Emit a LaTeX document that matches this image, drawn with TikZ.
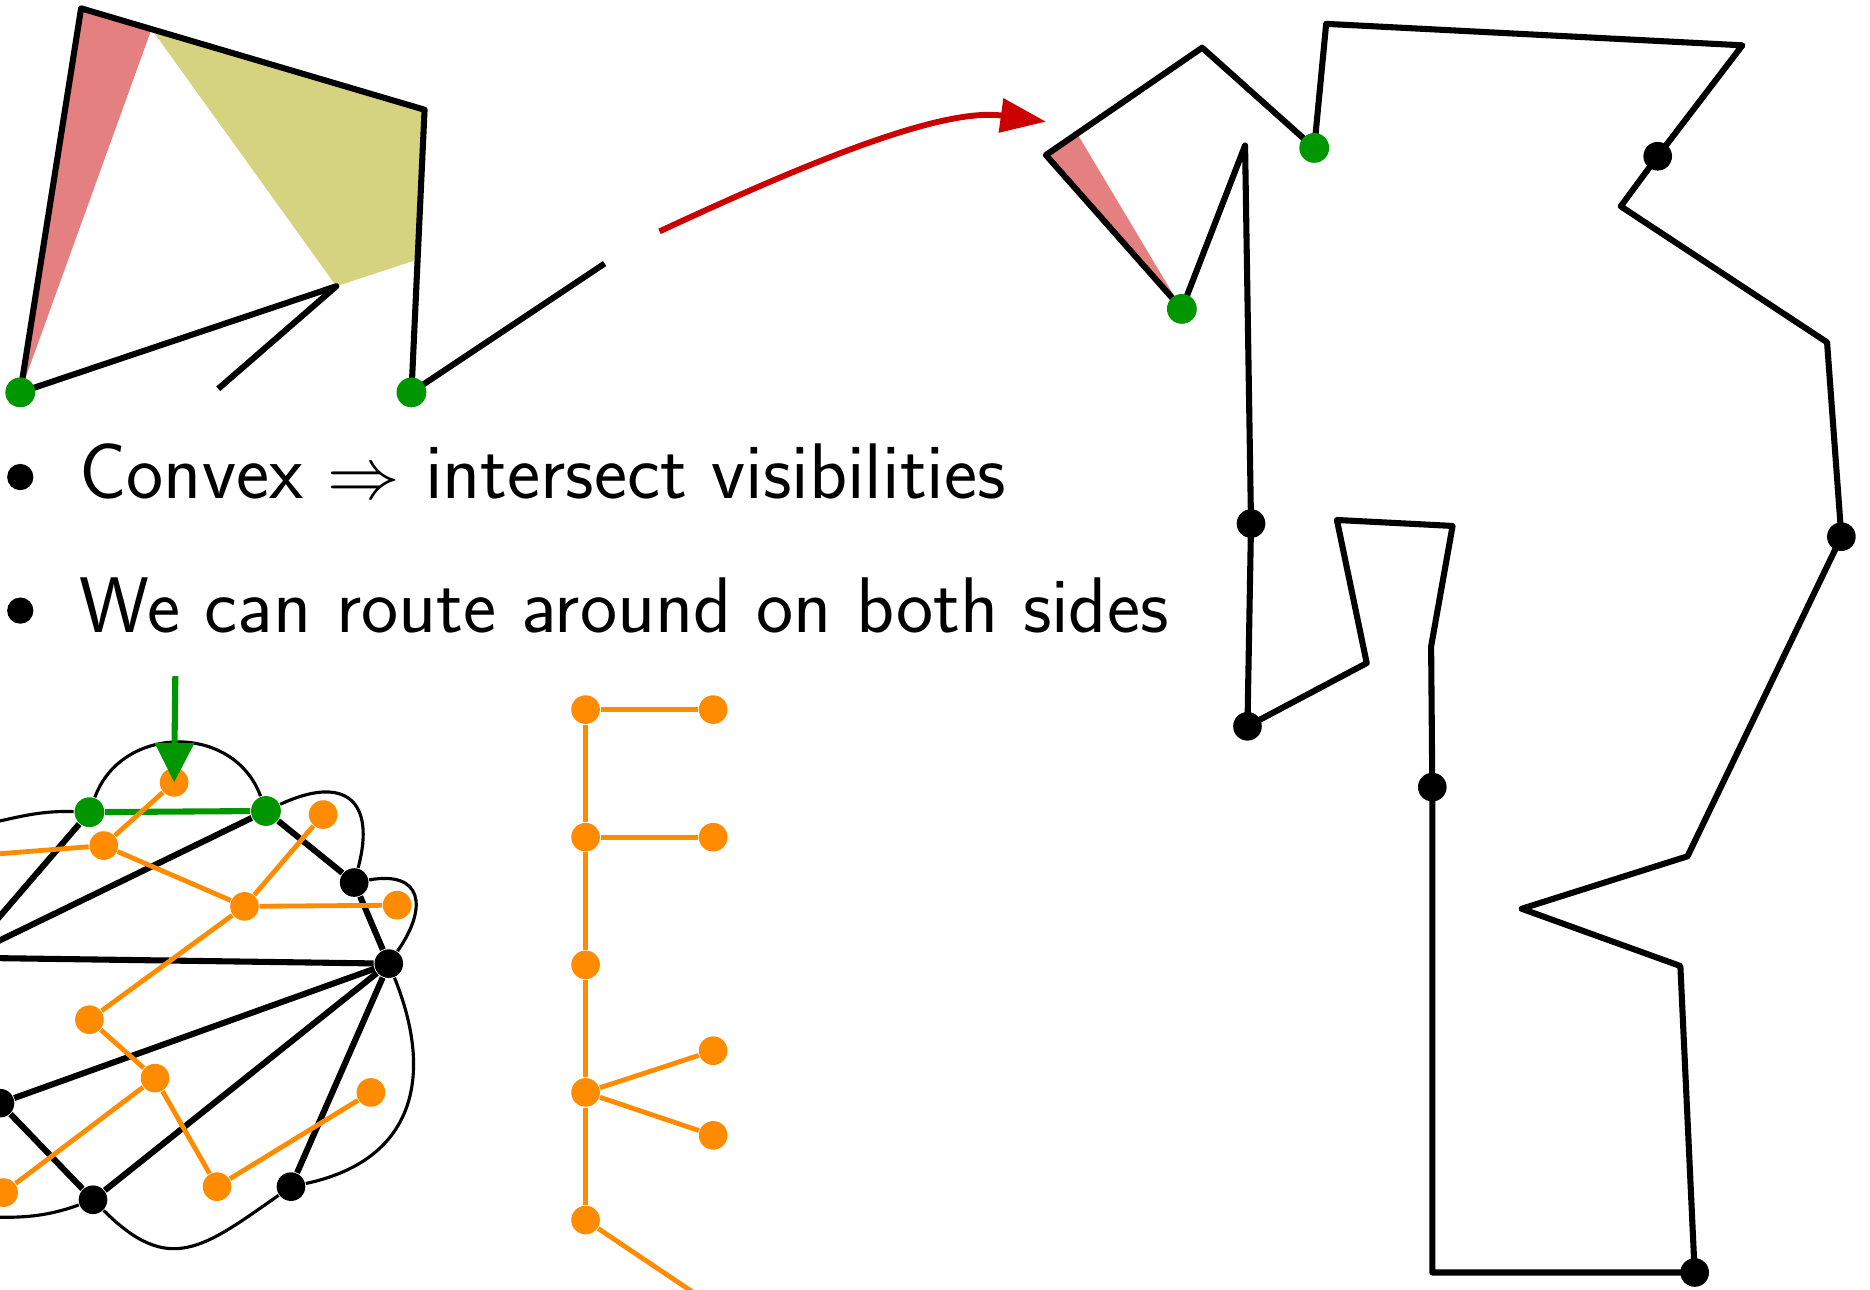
\documentclass[tikz,border=0pt]{standalone}
\usepackage{amsmath}
\usepackage{amssymb}
\usepackage{xcolor}
\usepackage{tikz}
\usetikzlibrary{calc, positioning, arrows.meta}

\definecolor{vgreen}{RGB}{0,150,0}
\definecolor{vorange}{RGB}{255,140,0}
\definecolor{vred}{RGB}{204,0,0}
\definecolor{vpink}{RGB}{229,128,128}
\definecolor{volive}{RGB}{213,211,128}

\begin{document}
\begin{tikzpicture}[
    x=0.01cm, y=-0.01cm,
    dot/.style={circle, inner sep=0pt, minimum size=0.24cm},
    bdot/.style={dot, fill=black},
    gdot/.style={dot, fill=vgreen, minimum size=0.25cm},
    odot/.style={dot, fill=vorange},
    poly/.style={line width=1.45pt, line join=round},
    thinc/.style={line width=0.75pt},
    oedge/.style={vorange, line width=1.15pt},
    gedge/.style={vgreen, line width=1.45pt},
    txt/.style={anchor=base west, inner sep=0pt, font=\fontsize{18.8}{22}\selectfont\sffamily}
]
\useasboundingbox (0,0) rectangle (1568,1081);

% --- convex corner, top left
\coordinate (A) at (68,7);
\coordinate (B) at (356,92);
\coordinate (C) at (345,329);
\coordinate (Cend) at (507,221);
\coordinate (D) at (17,329);
\coordinate (E) at (282,240);
\coordinate (F) at (183,326);
\coordinate (P) at ($(A)!0.205!(B)$);
\coordinate (Q) at ($(B)!0.53!(C)$);
\fill[vpink] (A) -- (P) -- (D) -- cycle;
\fill[volive] (P) -- (B) -- (Q) -- (E) -- cycle;
\draw[poly] (F) -- (E) -- (D) -- (A) -- (B) -- (C) -- (Cend);
\node[gdot] (vD) at (D) {};
\node[gdot] (vC) at (C) {};

% --- arrow to the big polygon
\coordinate (arrS) at (553,194);
\coordinate (arrT) at (877,102);
\draw[vred, line width=1.4pt, -{Triangle[length=0.38cm, width=0.28cm]}]
    (arrS) .. controls (680,135) and (790,90) .. (arrT);

% --- bullets
\node[bdot, minimum size=0.22cm] (b1) at (17,400) {};
\node[bdot, minimum size=0.22cm] (b2) at (17,512) {};
\node[txt] (t1) at (66,418) {Convex $\Rightarrow$ intersect visibilities};
\node[txt] (t2) at (66,530) {We can route around on both sides};

% --- big polygon, right
\coordinate (r1) at (991,259);
\coordinate (r2) at (1044,122);
\coordinate (r3) at (1049,439);
\coordinate (r4) at (1046,609);
\coordinate (r5) at (1146,556);
\coordinate (r6) at (1121,436);
\coordinate (r7) at (1218,441);
\coordinate (r8) at (1200,542);
\coordinate (r9) at (1201,660);
\coordinate (r10) at (1201,1067);
\coordinate (r11) at (1421,1067);
\coordinate (r12) at (1409,810);
\coordinate (r13) at (1276,762);
\coordinate (r14) at (1415,718);
\coordinate (r15) at (1544,450);
\coordinate (r16) at (1532,287);
\coordinate (r17) at (1359,173);
\coordinate (r18) at (1390,131);
\coordinate (r19) at (1461,38);
\coordinate (r20) at (1112,20);
\coordinate (r21) at (1102,124);
\coordinate (r22) at (1008,40);
\coordinate (r23) at (877,130);
\coordinate (s) at ($(r23)!0.2!(r22)$);
\fill[vpink] (r23) -- (s) -- (r1) -- cycle;
\draw[poly] (r1) -- (r2) -- (r3) -- (r4) -- (r5) -- (r6) -- (r7) -- (r8) -- (r9)
    -- (r10) -- (r11) -- (r12) -- (r13) -- (r14) -- (r15) -- (r16) -- (r17) -- (r18)
    -- (r19) -- (r20) -- (r21) -- (r22) -- (r23) -- cycle;
\foreach \v in {3,4,9,11,15,18}
    \node[bdot] (p\v) at (r\v) {};
\node[gdot] (p1) at (r1) {};
\node[gdot] (p21) at (r21) {};

% --- graph, bottom left
\node[gdot] (g1) at (75,681) {};
\node[gdot] (g2) at (223,680) {};
\node[bdot] (k1) at (297,740) {};
\node[bdot] (k2) at (326,808) {};
\node[bdot] (k3) at (244,995) {};
\node[bdot] (k4) at (78,1006) {};
\node[bdot] (k5) at (0,925) {};
\node[bdot] (k0) at (-30,803) {};
\coordinate (tl) at (-40,695);
\coordinate (bl) at (-40,1020);
\coordinate (ox) at (-40,719);

\draw[poly] (g1) -- (k0);
\draw[poly] (g2) -- (k0);
\draw[poly] (k2) -- (k0);
\draw[poly] (g2) -- (k1);
\draw[poly] (k1) -- (k2);
\draw[poly] (k2) -- (k5);
\draw[poly] (k2) -- (k4);
\draw[poly] (k2) -- (k3);
\draw[poly] (k5) -- (k4);

\draw[thinc] (tl) to[out=5, in=178] (g1);
\draw[thinc] (g1) to[out=70, in=110, looseness=1.2] (g2);
\draw[thinc] (g2) to[out=25, in=75, looseness=1.8] (k1);
\draw[thinc] (k1) to[out=10, in=55, looseness=1.8] (k2);
\draw[thinc] (k2) to[out=-68, in=12, looseness=1.25] (k3);
\draw[thinc] (k3) to[out=-145, in=-45, looseness=1.35] (k4);
\draw[thinc] (k4) to[out=-160, in=0] (bl);

\draw[gedge] (g1) -- (g2);

\node[odot] (o1) at (146,656) {};
\node[odot] (o2) at (87,709) {};
\node[odot] (o3) at (271,683) {};
\node[odot] (o4) at (205,760) {};
\node[odot] (o5) at (333,759) {};
\node[odot] (o6) at (75,855) {};
\node[odot] (o7) at (130,904) {};
\node[odot] (o8) at (311,916) {};
\node[odot] (o9) at (182,995) {};
\node[odot] (o10) at (3,1000) {};
\draw[oedge] (o1) -- (o2);
\draw[oedge] (o2) -- (ox);
\draw[oedge] (o2) -- (o4);
\draw[oedge] (o4) -- (o3);
\draw[oedge] (o4) -- (o5);
\draw[oedge] (o4) -- (o6);
\draw[oedge] (o6) -- (o7);
\draw[oedge] (o7) -- (o10);
\draw[oedge] (o7) -- (o9);
\draw[oedge] (o9) -- (o8);

\coordinate (gtop) at (147,567);
\draw[gedge, -{Triangle[length=0.33cm, width=0.32cm]}] (gtop) -- (o1.center);

% --- orange tree, middle
\node[odot] (s1) at (491,595) {};
\node[odot] (s2) at (491,702) {};
\node[odot] (s3) at (491,809) {};
\node[odot] (s4) at (491,916) {};
\node[odot] (s5) at (491,1023) {};
\node[odot] (l1) at (598,595) {};
\node[odot] (l2) at (598,702) {};
\node[odot] (l3) at (598,881) {};
\node[odot] (l4) at (598,952) {};
\coordinate (sx) at (610,1103);
\draw[oedge] (s1) -- (s2) -- (s3) -- (s4) -- (s5);
\draw[oedge] (s1) -- (l1);
\draw[oedge] (s2) -- (l2);
\draw[oedge] (s4) -- (l3);
\draw[oedge] (s4) -- (l4);
\draw[oedge] (s5) -- (sx);
\end{tikzpicture}
\end{document}
